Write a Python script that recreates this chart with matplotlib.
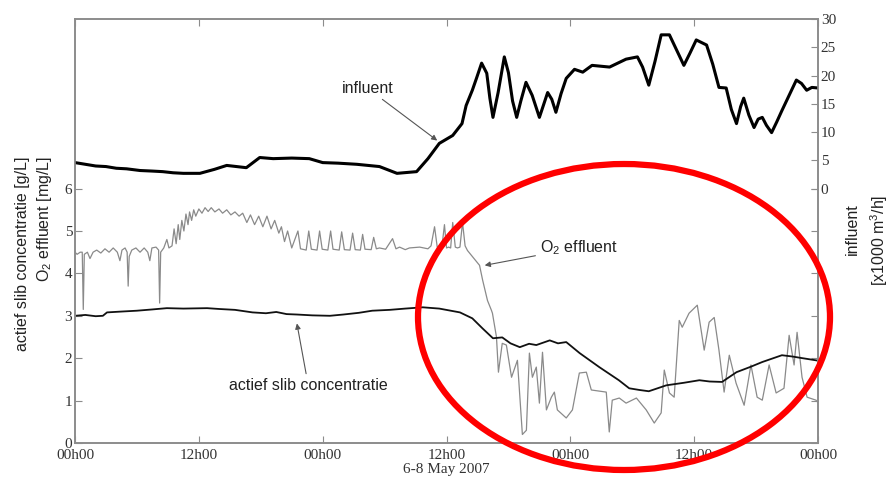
import numpy as np
import matplotlib.pyplot as plt
from matplotlib.patches import Ellipse

plt.rcParams['mathtext.fontset'] = 'custom'
plt.rcParams['mathtext.rm'] = 'Liberation Sans'
plt.rcParams['mathtext.it'] = 'Liberation Sans'

# influent flow [x1000 m3/h], right axis
inf_h = [0, 1, 2, 3, 4, 5, 6.3, 7.5, 8.5, 9.5, 10.5, 12.1, 13.5, 14.7, 16.6, 17.9, 19.2,
         21, 22.7, 24.0, 25.5, 27.3, 29.5, 31.2, 33.1, 34.2, 35.3, 36.6, 37.5, 37.9,
         38.5, 38.9, 39.4, 39.9, 40.2, 40.5, 41.0, 41.6, 42.0, 42.4, 42.8, 43.2, 43.7,
         44.3, 45.0, 45.4, 45.8, 46.2, 46.6, 47.1, 47.6, 48.4, 49.2, 50.1, 51.8, 53.4,
         54.5, 55.0, 55.6, 56.2, 56.8, 57.6, 58.3, 59.0, 59.6, 60.2, 61.2, 61.8, 62.4,
         63.1, 63.6, 64.1, 64.5, 64.8, 65.3, 65.8, 66.2, 66.6, 67.0, 67.5, 68.0, 68.5,
         69.2, 69.9, 70.4, 70.9, 71.4, 72]
inf_v = [4.6, 4.3, 4.0, 3.9, 3.6, 3.5, 3.2, 3.1, 3.0, 2.8, 2.7, 2.7, 3.4, 4.1, 3.7, 5.5,
         5.3, 5.4, 5.3, 4.6, 4.5, 4.3, 3.9, 2.7, 3.0, 5.3, 8.0, 9.4, 11.5, 14.7,
         17.4, 19.5, 22.2, 20.4, 16.0, 12.6, 17.0, 23.3, 20.5, 15.5, 12.6, 15.5, 18.8,
         16.5, 12.6, 14.8, 17.0, 15.8, 13.5, 16.8, 19.5, 21.1, 20.6, 21.8, 21.5, 22.9,
         23.3, 21.5, 18.3, 22.5, 27.2, 27.2, 24.5, 21.8, 24.0, 26.3, 25.4, 22.0, 17.9,
         17.8, 14.0, 11.5, 14.5, 16.0, 13.0, 10.8, 12.3, 12.6, 11.2, 9.9, 11.8, 13.8,
         16.5, 19.2, 18.6, 17.4, 17.9, 17.8]

# actief slib concentratie [g/L], left axis
slib_h = [0, 1, 2, 2.7, 3.1, 4.5, 6, 7.5, 8.9, 10.5, 12.8, 14, 15.5, 17.2, 18.5, 19.5,
          20.5, 21.5, 23, 24.7, 26, 27.5, 28.8, 30.5, 32, 33.7, 35.3, 37.3, 38.5, 39.5,
          40.5, 41.4, 42.2, 43.1, 44, 44.7, 46, 46.8, 47.6, 48.9, 50.8, 52.7, 53.7,
          54.7, 55.6, 57.3, 59, 60.5, 61.5, 62.7, 64.1, 65.5, 66.6, 68.5, 69.5, 70.5,
          71.8, 72]
slib_v = [3.0, 3.02, 2.99, 3.0, 3.08, 3.1, 3.12, 3.15, 3.18, 3.17, 3.18, 3.16, 3.14,
          3.08, 3.06, 3.09, 3.04, 3.03, 3.01, 3.0, 3.03, 3.07, 3.12, 3.14, 3.17, 3.2,
          3.17, 3.08, 2.94, 2.7, 2.47, 2.49, 2.35, 2.26, 2.34, 2.31, 2.42, 2.35, 2.38,
          2.12, 1.79, 1.48, 1.29, 1.25, 1.22, 1.36, 1.42, 1.48, 1.45, 1.44, 1.67, 1.8,
          1.91, 2.07, 2.04, 2.0, 1.95, 1.94]

# O2 effluent [mg/L], left axis
o2_h = [0.0, 0.2, 0.5, 0.7, 0.8, 0.9, 1.2, 1.45, 1.75, 2.1, 2.5, 2.9, 3.3, 3.7, 4.1,
        4.35, 4.55, 4.85, 5.05, 5.15, 5.25, 5.5, 5.9, 6.3, 6.7, 7.05, 7.25, 7.45, 7.85,
        8.1, 8.2, 8.3, 8.6, 8.9, 9.1, 9.4, 9.6, 9.8, 10.0, 10.15, 10.35, 10.55, 10.75,
        10.95, 11.1, 11.3, 11.5, 11.7, 12.0, 12.3, 12.6, 12.9, 13.2, 13.55, 13.95, 14.3,
        14.7, 15.1, 15.5, 15.9, 16.25, 16.65, 17.0, 17.4, 17.8, 18.2, 18.6, 19.0, 19.35,
        19.75, 20.0, 20.3, 20.6, 21.0,
        21.6, 21.85, 22.4, 22.65, 22.9, 23.45, 23.7, 23.95, 24.5, 24.77, 25.0, 25.6,
        25.84, 26.1, 26.65, 26.9, 27.15, 27.65, 27.87, 28.1, 28.7, 28.94, 29.2, 29.5,
        30.1, 30.77, 31.1, 31.45, 32.0, 32.4, 33.4, 34.2, 34.5, 34.84, 35.1, 35.3, 35.55,
        35.8, 36.0, 36.2, 36.4, 36.6, 36.85, 37.06, 37.3, 37.55, 37.8, 38.03, 39.2,
        39.5, 39.97, 40.35, 40.45, 40.84, 41.03, 41.4, 41.8, 42.3, 42.87, 43.35, 43.74,
        44.03, 44.32, 44.7, 45.0, 45.3, 45.68, 46.16, 46.45, 46.74, 47.6, 48.2, 48.87,
        49.55, 50.03, 51.48, 51.77, 52.06, 52.74, 53.4, 54.4, 55.35, 56.13, 56.8, 57.1,
        57.6, 58.06, 58.55, 58.84, 59.5, 60.3, 60.97, 61.45, 61.94, 62.4, 62.9, 63.4,
        64.06, 64.84, 65.5, 66.1, 66.6, 67.26, 67.94, 68.7, 69.2, 69.68, 69.97, 70.45,
        70.94, 71.8, 72.0]
o2_v = [4.5, 4.45, 4.5, 4.5, 3.15, 4.45, 4.5, 4.35, 4.5, 4.55, 4.48, 4.58, 4.5, 4.6, 4.5,
        4.3, 4.55, 4.6, 4.5, 3.7, 4.4, 4.55, 4.6, 4.5, 4.6, 4.5, 4.3, 4.6, 4.62,
        4.55, 3.3, 4.5, 4.6, 4.8, 4.6, 4.65, 5.05, 4.7, 5.15, 4.8, 5.25, 5.0, 5.4,
        5.15, 5.45, 5.25, 5.5, 5.35, 5.52, 5.42, 5.55, 5.46, 5.55, 5.45, 5.52, 5.42,
        5.5, 5.38, 5.45, 5.35, 5.42, 5.2, 5.38, 5.15, 5.35, 5.1, 5.35, 5.05, 5.25,
        4.95, 5.1, 4.75, 5.0, 4.6,
        5.0, 4.58, 4.55, 5.0, 4.57, 4.55, 5.0, 4.57, 4.55, 5.0, 4.57, 4.55,
        4.98, 4.56, 4.55, 4.95, 4.56, 4.55, 4.92, 4.57, 4.56, 4.85, 4.58, 4.6,
        4.57, 4.82, 4.58, 4.62, 4.56, 4.6, 4.62, 4.58, 4.65, 5.1, 4.62, 4.6, 4.62,
        5.15, 4.6, 4.62, 4.6, 5.2, 4.62, 4.6, 4.62, 5.2, 4.65, 4.54, 4.19,
        3.84, 3.36, 3.13, 3.06, 2.5, 1.67, 2.35, 2.31, 1.55, 1.95, 0.2, 0.3,
        2.12, 1.55, 1.79, 0.94, 2.14, 0.78, 1.08, 1.2, 0.78, 0.59, 0.78, 1.65,
        1.67, 1.25, 1.2, 0.26, 1.01, 1.06, 0.94, 1.06, 0.78, 0.47, 0.71, 1.72,
        1.18, 1.08, 2.89, 2.73, 3.06, 3.25, 2.19, 2.85, 2.96, 2.19, 1.2, 2.07,
        1.41, 0.89, 1.84, 1.08, 1.01, 1.84, 1.18, 1.29, 2.54, 1.84, 2.61, 1.55,
        1.08, 1.01, 0.95]

xticks = [0, 12, 24, 36, 48, 60, 72]
xlabels = ['00h00', '12h00', '00h00', '12h00', '00h00', '12h00', '00h00']

fig = plt.figure(figsize=(8.91, 4.79), dpi=100)
ax = fig.add_axes([0.0842, 0.0752, 0.8339, 0.8851])
ax2 = ax.twinx()

ax.plot(o2_h, o2_v, color='#8a8a8a', lw=0.9)
ax.plot(slib_h, slib_v, color='#111111', lw=1.3)
ax2.plot(inf_h, inf_v, color='#000000', lw=2.2)

ax.set_xlim(0, 72)
ax.set_ylim(0, 10)
ax2.set_ylim(-45, 30)
ax.set_xticks(xticks)
ax.set_xticklabels(xlabels)
ax.set_yticks(range(0, 7))
ax2.set_yticks(range(0, 31, 5))

tfont = {'family': 'Liberation Serif', 'size': 11}
for a in (ax, ax2):
    for s in a.spines.values():
        s.set_color('#8c8c8c')
        s.set_linewidth(1.2)
    a.tick_params(direction='in', color='#8c8c8c', length=5, labelcolor='#333333',
                  labelsize=11, pad=2)
    for lab in a.get_xticklabels() + a.get_yticklabels():
        lab.set_fontfamily('Liberation Serif')
ax.tick_params(top=True, right=True, labelright=False)
ax.tick_params(axis='x', pad=4)
ax2.tick_params(right=True, left=False)

fig.text(446 / 891, 1 - 470 / 479, '6-8 May 2007', ha='center', va='center',
         color='#333333', **tfont)

lfont = {'family': 'Liberation Sans', 'size': 11.5, 'color': '#222222'}
fig.text(23 / 891, 1 - 156 / 479, 'actief slib concentratie [g/L]', rotation=90,
         ha='center', va='top', **lfont)
fig.text(45 / 891, 1 - 156 / 479, 'O$_2$ effluent [mg/L]', rotation=90,
         ha='center', va='top', **lfont)
fig.text(852 / 891, 1 - 229 / 479, 'influent', rotation=90, ha='center', va='center', **lfont)
fig.text(879 / 891, 1 - 240 / 479, '[x1000 m$^3$/h]', rotation=90, ha='center',
         va='center', **lfont)

aprops = dict(arrowstyle='-|>', color='#555555', lw=0.8, mutation_scale=8,
              shrinkA=1, shrinkB=0)
ax2.annotate('influent', xy=(35.1, 8.5), xytext=(28.35, 17.75), ha='center',
             va='center', arrowprops=aprops, **lfont)
ax.annotate('O$_2$ effluent', xy=(39.7, 4.19), xytext=(48.8, 4.61), ha='center',
            va='center', arrowprops=aprops, **lfont)
ax.annotate('actief slib concentratie', xy=(21.5, 2.82), xytext=(22.6, 1.36),
            ha='center', va='center', arrowprops=aprops, **lfont)

fig.add_artist(Ellipse((624 / 891, 1 - 317 / 479), 412 / 891, 306 / 479,
                       transform=fig.transFigure, fill=False, edgecolor='#ff0000',
                       lw=4.5))

fig.savefig('out.png', dpi=100)
